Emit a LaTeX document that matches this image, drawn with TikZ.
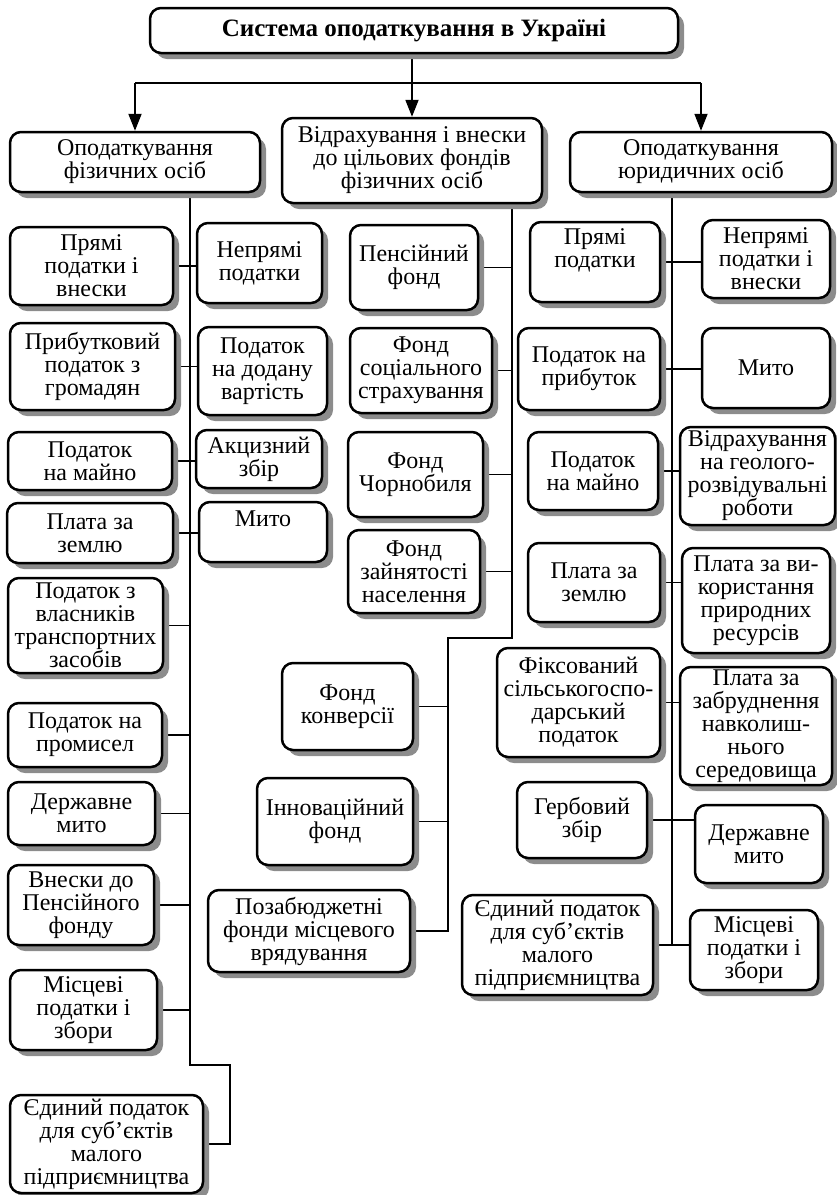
\documentclass[tikz,border=0pt]{standalone}
\usepackage{fontspec}
\setmainfont{Liberation Serif}
\usetikzlibrary{arrows.meta, shadows, backgrounds}

\tikzset{
  taxbox/.style={draw, line width=2.5pt, rounded corners=11pt, fill=white, align=center,
    inner sep=0.5pt, font=\fontsize{24}{23}\selectfont,
    drop shadow={shadow xshift=6pt, shadow yshift=-6pt, fill=black!45, opacity=1}},
  conn/.style={line width=1.8pt},
  arr/.style={line width=1.8pt, -{Triangle[length=17pt,width=13pt]}}
}

\begin{document}
\begin{tikzpicture}[x=1pt, y=-1pt]
\useasboundingbox (0,0) rectangle (837,1195);

% top level
\node[taxbox, minimum width=528pt, minimum height=45pt, font=\fontsize{25}{23}\selectfont\bfseries] (title) at (414,30.5) {Система оподаткування в Україні};
\node[taxbox, minimum width=250pt, minimum height=60pt] (fiz) at (135,162) {Оподаткування\\фізичних осіб};
\node[taxbox, minimum width=260pt, minimum height=85pt] (fond) at (412,160.5) {Відрахування і внески\\до цільових фондів\\фізичних осіб};
\node[taxbox, minimum width=262pt, minimum height=60pt] (yur) at (701,162) {Оподаткування\\юридичних осіб};

% physical persons
\node[taxbox, minimum width=163pt, minimum height=78pt] (f1) at (91.5,266) {Прямі\\податки і\\внески};
\node[taxbox, minimum width=125pt, minimum height=80pt] (f1b) at (259.5,263) {Непрямі\\податки};
\node[taxbox, minimum width=165pt, minimum height=87pt] (f2) at (92.5,366.5) {Прибутковий\\податок з\\громадян};
\node[taxbox, minimum width=129pt, minimum height=88pt] (f2b) at (262.5,371) {Податок\\на додану\\вартість};
\node[taxbox, minimum width=164pt, minimum height=58pt] (f3) at (90,461) {Податок\\на майно};
\node[taxbox, minimum width=126pt, minimum height=58pt] (f3b) at (259,459) {Акцизний\\збір};
\node[taxbox, minimum width=166pt, minimum height=60pt] (f4) at (90,533) {Плата за\\землю};
\node[taxbox, minimum width=128pt, minimum height=60pt] (f4b) at (263,532) {Мито\\[4pt]};
\node[taxbox, minimum width=155pt, minimum height=95pt] (f5) at (85.5,625.5) {Податок з\\власників\\транспортних\\засобів};
\node[taxbox, minimum width=154pt, minimum height=64pt] (f6) at (85,735) {Податок на\\промисел};
\node[taxbox, minimum width=147pt, minimum height=63pt] (f7) at (81.5,813.5) {Державне\\мито};
\node[taxbox, minimum width=146pt, minimum height=80pt] (f8) at (81,905) {Внески до\\Пенсійного\\фонду};
\node[taxbox, minimum width=147pt, minimum height=80pt] (f9) at (83.5,1010) {Місцеві\\податки і\\збори};
\node[taxbox, minimum width=193pt, minimum height=98pt] (f10) at (106.5,1144) {Єдиний податок\\для суб’єктів\\малого\\підприємництва};

% target funds
\node[taxbox, minimum width=128pt, minimum height=85pt] (m1) at (414,267.5) {Пенсійний\\фонд};
\node[taxbox, minimum width=142pt, minimum height=85pt] (m2) at (421,370.5) {Фонд\\соціального\\страхування};
\node[taxbox, minimum width=135pt, minimum height=85pt] (m3) at (415.5,474.5) {Фонд\\Чорнобиля};
\node[taxbox, minimum width=132pt, minimum height=83pt] (m4) at (414,571.5) {Фонд\\зайнятості\\населення};
\node[taxbox, minimum width=131pt, minimum height=87pt] (m5) at (347.5,706.5) {Фонд\\конверсії};
\node[taxbox, minimum width=156pt, minimum height=87pt] (m6) at (335,821.5) {Інноваційний\\фонд};
\node[taxbox, minimum width=202pt, minimum height=82pt] (m7) at (309,931) {Позабюджетні\\фонди місцевого\\врядування};

% legal persons
\node[taxbox, minimum width=130pt, minimum height=80pt] (y1) at (595,262) {Прямі\\податки\\[4pt]};
\node[taxbox, minimum width=128pt, minimum height=78pt] (y1b) at (766,259) {Непрямі\\податки і\\внески};
\node[taxbox, minimum width=142pt, minimum height=82pt] (y2) at (589,369) {Податок на\\прибуток};
\node[taxbox, minimum width=128pt, minimum height=80pt] (y2b) at (766,368) {Мито};
\node[taxbox, minimum width=130pt, minimum height=78pt] (y3) at (593,471) {Податок\\на майно};
\node[taxbox, minimum width=155pt, minimum height=98pt] (y3b) at (757.5,476) {Відрахування\\на геолого-\\розвідувальні\\роботи};
\node[taxbox, minimum width=132pt, minimum height=79pt] (y4) at (594,582.5) {Плата за\\землю};
\node[taxbox, minimum width=148pt, minimum height=105pt] (y4b) at (756,600.5) {Плата за ви-\\користання\\природних\\ресурсів};
\node[taxbox, minimum width=163pt, minimum height=109pt] (y5) at (578.5,702.5) {Фіксований\\сільськогоспо-\\дарський\\податок};
\node[taxbox, minimum width=152pt, minimum height=118pt] (y5b) at (756,726) {Плата за\\забруднення\\навколиш-\\нього\\середовища};
\node[taxbox, minimum width=130pt, minimum height=76pt] (y6) at (582,820) {Гербовий\\збір};
\node[taxbox, minimum width=128pt, minimum height=78pt] (y6b) at (759,844) {Державне\\мито};
\node[taxbox, minimum width=191pt, minimum height=100pt] (y7) at (557.5,945) {Єдиний податок\\для суб’єктів\\малого\\підприємництва};
\node[taxbox, minimum width=128pt, minimum height=80pt] (y7b) at (754,950) {Місцеві\\податки і\\збори};

% spines
\coordinate (bar) at (0,83);
\coordinate (fsp) at (190,0);
\coordinate (fbend) at (230,1065);
\coordinate (msp) at (512,0);
\coordinate (mbend) at (448,638);
\coordinate (ysp) at (672,0);

\begin{scope}[on background layer]
\draw[arr] (fond.north |- title.south) -- (fond.north);
\draw[conn] (fiz.north |- bar) -- (yur.north |- bar);
\draw[arr] (fiz.north |- bar) -- (fiz.north);
\draw[arr] (yur.north |- bar) -- (yur.north);

\draw[conn] (fiz.south -| fsp) -- (fsp |- fbend) -- (fbend) -- (fbend |- f10.east) -- (f10.east);
\foreach \a/\b in {f1/f1b, f2/f2b, f3/f3b, f4/f4b}
  \draw[conn] (\a.east) -- (\a.east -| \b.west);
\foreach \a in {f5, f6, f7, f8, f9}
  \draw[conn] (\a.east) -- (\a.east -| fsp);

\draw[conn] (fond.south -| msp) -- (msp |- mbend) -- (mbend) -- (mbend |- m7.east) -- (m7.east);
\foreach \a in {m1, m2, m3, m4}
  \draw[conn] (\a.east) -- (\a.east -| msp);
\foreach \a in {m5, m6}
  \draw[conn] (\a.east) -- (\a.east -| mbend);

\draw[conn] (yur.south -| ysp) -- (ysp |- y7.east);
\foreach \a/\b in {y1/y1b, y2/y2b, y3/y3b, y4/y4b, y5/y5b, y6/y6b, y7/y7b}
  \draw[conn] (\a.east) -- (\a.east -| \b.west);
\end{scope}
\end{tikzpicture}
\end{document}
